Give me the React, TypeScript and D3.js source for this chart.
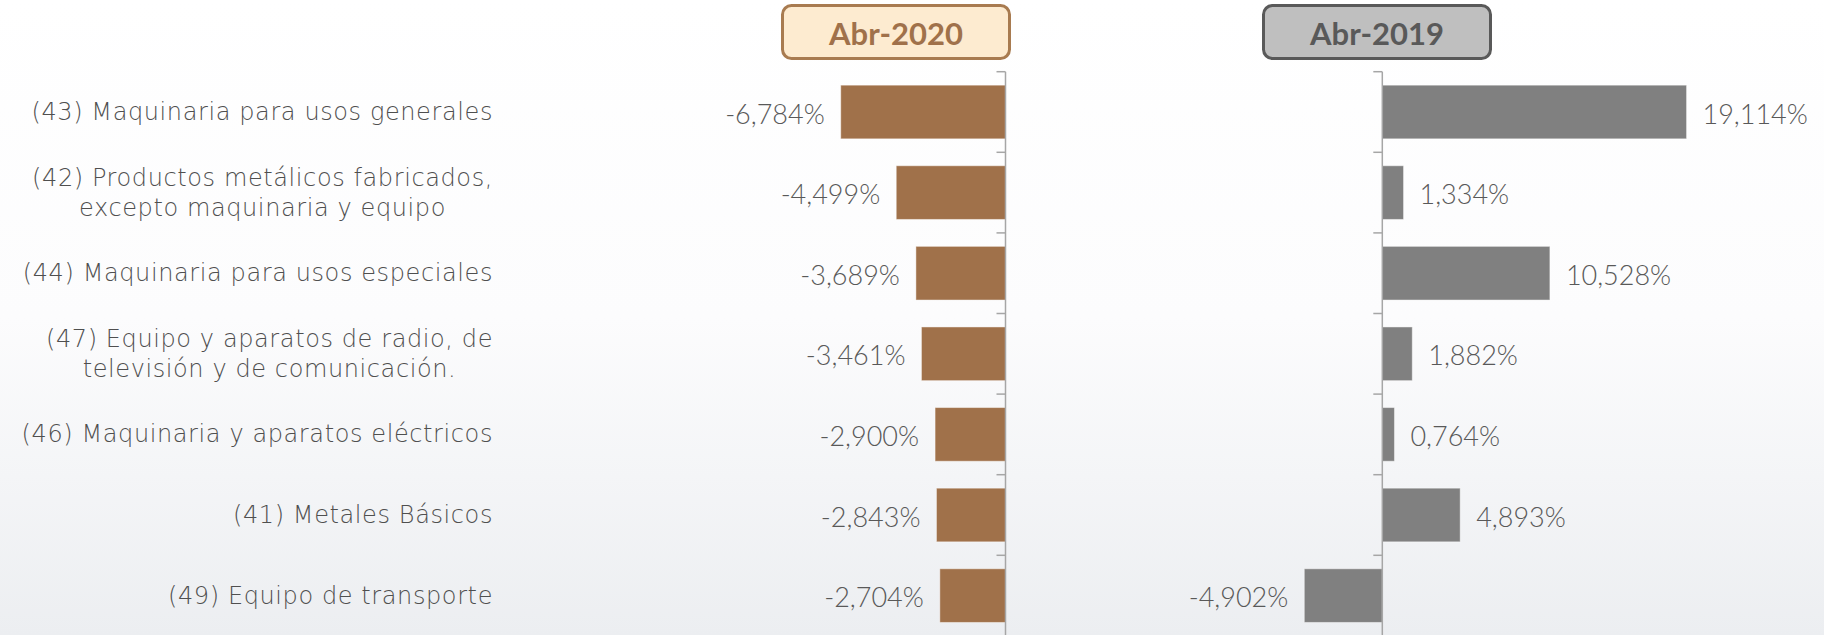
import React, { useEffect, useRef } from "react";
import * as d3 from "d3";

const categories: string[][] = [
  ["(43) Maquinaria para usos generales"],
  ["(42) Productos metálicos fabricados,", "excepto maquinaria y equipo"],
  ["(44) Maquinaria para usos especiales"],
  ["(47) Equipo y aparatos de radio, de", "televisión y de comunicación."],
  ["(46) Maquinaria y aparatos eléctricos"],
  ["(41) Metales Básicos"],
  ["(49) Equipo de transporte"],
];
const abr2020 = [-6.784, -4.499, -3.689, -3.461, -2.9, -2.843, -2.704];
const abr2019 = [19.114, 1.334, 10.528, 1.882, 0.764, 4.893, -4.902];
const seriesNames = ["Abr-2020", "Abr-2019"];

const W = 1824;
const H = 635;

export default function App() {
  const ref = useRef<SVGSVGElement | null>(null);

  useEffect(() => {
    const svg = d3.select(ref.current);
    svg.selectAll("*").remove();

    const locale = d3.formatLocale({ decimal: ",", thousands: ".", grouping: [3], currency: ["", ""], minus: "-" });
    const fmt = (v: number) => locale.format(".3f")(v) + "%";

    const defs = svg.append("defs");
    const bg = defs.append("linearGradient").attr("id", "bg").attr("x1", 0).attr("y1", 0).attr("x2", 0).attr("y2", 1);
    bg.append("stop").attr("offset", "0").attr("stop-color", "#ffffff");
    bg.append("stop").attr("offset", "0.5").attr("stop-color", "#fcfcfd");
    bg.append("stop").attr("offset", "1").attr("stop-color", "#eceef1");
    svg.append("rect").attr("width", W).attr("height", H).attr("fill", "url(#bg)");

    const keys = categories.map((c) => c.join(" "));
    const y = d3.scaleBand<string>().domain(keys).range([71.7, 635.9]).paddingInner(0.334).paddingOuter(0.167);

    const xL = d3.scaleLinear().domain([-8, 0]).range([811.2, 1005.5]);
    const xR = d3.scaleLinear().domain([-6, 22]).range([1286.8, 1732.5]);

    const panels = [
      { x: xL, data: abr2020, fill: "#A0714A", name: seriesNames[0], boxFill: "#FDEBD0", boxStroke: "#A87B50", text: "#A0714A", box: [782.5, 5.5, 227, 53] },
      { x: xR, data: abr2019, fill: "#808080", name: seriesNames[1], boxFill: "#BFBFBF", boxStroke: "#595959", text: "#595959", box: [1263.5, 5.5, 227, 53] },
    ];

    const labelFont = "'DejaVu Sans', sans-serif";
    const valueFont = "Lato, sans-serif";

    panels.forEach((p) => {
      const g = svg.append("g");
      const [bx, by, bw, bh] = p.box;
      g.append("rect")
        .attr("x", bx).attr("y", by).attr("width", bw).attr("height", bh)
        .attr("rx", 9).attr("fill", p.boxFill).attr("stroke", p.boxStroke).attr("stroke-width", 3);
      g.append("text")
        .attr("x", bx + bw / 2).attr("y", by + bh / 2 + 1)
        .attr("text-anchor", "middle").attr("dominant-baseline", "central")
        .attr("font-family", valueFont).attr("font-weight", 700).attr("font-size", 31)
        .attr("fill", p.text).text(p.name);

      const x0 = p.x(0);
      g.selectAll("rect.bar").data(p.data).join("rect")
        .attr("class", "bar")
        .attr("x", (d) => Math.min(p.x(d), x0))
        .attr("y", (_, i) => y(keys[i])!)
        .attr("width", (d) => Math.abs(p.x(d) - x0))
        .attr("height", y.bandwidth())
        .attr("fill", p.fill)
        .attr("stroke", "rgba(255,255,255,0.45)").attr("stroke-width", 1);

      const [r0, r1] = y.range();
      g.append("line").attr("x1", x0).attr("x2", x0).attr("y1", r0).attr("y2", r1 + 20)
        .attr("stroke", "#a6a6a6").attr("stroke-width", 1.5);
      const tickYs = d3.range(keys.length + 1).map((i) => r0 + i * y.step());
      g.selectAll("line.tick").data(tickYs).join("line")
        .attr("class", "tick")
        .attr("x1", x0 - 9).attr("x2", x0).attr("y1", (d) => d).attr("y2", (d) => d)
        .attr("stroke", "#a6a6a6").attr("stroke-width", 1.5);

      g.selectAll("text.val").data(p.data).join("text")
        .attr("class", "val")
        .attr("x", (d) => (d < 0 ? p.x(d) - 16 : p.x(d) + 16))
        .attr("y", (_, i) => y(keys[i])! + y.bandwidth() / 2 + 1)
        .attr("text-anchor", (d) => (d < 0 ? "end" : "start"))
        .attr("dominant-baseline", "central")
        .attr("font-family", valueFont).attr("font-weight", 300).attr("font-size", 27)
        .attr("fill", "#595959")
        .text((d) => fmt(d));
    });

    const labelRight = 493;
    const lineH = 30;
    categories.forEach((lines, i) => {
      const cy = y(keys[i])! + y.bandwidth() / 2;
      const t = svg.append("text")
        .attr("font-family", labelFont).attr("font-weight", 300).attr("font-size", 24)
        .attr("letter-spacing", 0.6)
        .attr("fill", "#4f4f4f").attr("dominant-baseline", "central");
      if (lines.length === 1) {
        t.attr("x", labelRight).attr("y", cy).attr("text-anchor", "end").text(lines[0]);
      } else {
        const spans = lines.map((l, j) =>
          t.append("tspan").attr("y", cy + (j - (lines.length - 1) / 2) * lineH).text(l)
        );
        const maxW = d3.max(spans, (s) => (s.node() as SVGTSpanElement).getComputedTextLength()) || 0;
        t.attr("text-anchor", "middle");
        spans.forEach((s) => s.attr("x", labelRight - maxW / 2));
      }
    });
  }, []);

  return (
    <svg
      ref={ref}
      width={W}
      height={H}
      style={{ position: "absolute", left: 0, top: 0, display: "block" }}
    />
  );
}
